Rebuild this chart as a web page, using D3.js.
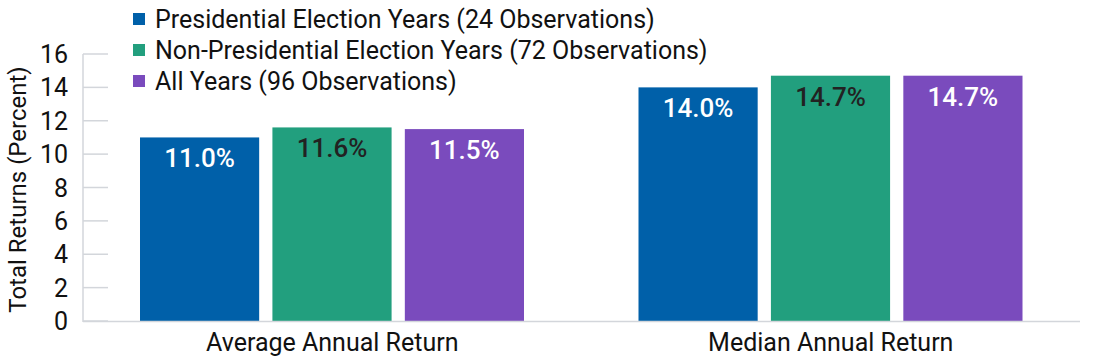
<!DOCTYPE html>
<html><head><meta charset="utf-8">
<script src="https://cdn.jsdelivr.net/npm/d3@7"></script>
<style>body{margin:0;background:#fff}text{font-family:Roboto,"Noto Sans",sans-serif}</style>
</head><body><svg id="c" width="1100" height="358"></svg>
<script>
const categories = ["Average Annual Return", "Median Annual Return"];
const seriesNames = ["Presidential Election Years (24 Observations)", "Non-Presidential Election Years (72 Observations)", "All Years (96 Observations)"];
const presidential = [11.0, 14.0];
const nonPresidential = [11.6, 14.7];
const allYears = [11.5, 14.7];
const yTicks = [0, 2, 4, 6, 8, 10, 12, 14, 16];
const colors = ["#0060A9", "#229F7E", "#7A4BBD"];
const labelColors = ["#ffffff", "#222222", "#ffffff"];

const series = [presidential, nonPresidential, allYears];
const svg = d3.select("#c");
const x0 = d3.scaleBand().domain(categories).range([83, 1080]);
const x1 = d3.scaleBand().domain(d3.range(3)).range([57, 441]).paddingInner(0.1);
const y = d3.scaleLinear().domain([0, 16]).range([321, 54]);

svg.append("g").selectAll("line").data(yTicks).join("line")
  .attr("x1", 83).attr("x2", 108).attr("y1", d => y(d)).attr("y2", d => y(d))
  .attr("stroke", "#d3d6db").attr("stroke-width", 1.5);
svg.append("g").selectAll("text").data(yTicks).join("text")
  .attr("x", 68).attr("y", d => y(d)).attr("dy", "0.36em").attr("text-anchor", "end")
  .attr("font-size", 25).attr("fill", "#111").text(d => d);

categories.forEach((c, ci) => {
  series.forEach((s, si) => {
    const v = s[ci];
    const bx = x0(c) + x1(si);
    svg.append("rect").attr("x", bx).attr("y", y(v)).attr("width", x1.bandwidth()).attr("height", y(0) - y(v))
      .attr("fill", colors[si]);
    svg.append("text").attr("x", bx + x1.bandwidth() / 2).attr("y", y(v) + 30)
      .attr("text-anchor", "middle").attr("font-size", 26).attr("font-weight", 500)
      .attr("fill", labelColors[si]).text(v.toFixed(1) + "%");
  });
});

svg.append("line").attr("x1", 83).attr("x2", 83).attr("y1", y(16)).attr("y2", 322).attr("stroke", "#d3d6db").attr("stroke-width", 1.5);
svg.append("line").attr("x1", 83).attr("x2", 1080).attr("y1", 321.5).attr("y2", 321.5).attr("stroke", "#d3d6db").attr("stroke-width", 1.5);

svg.append("g").selectAll("text").data(categories).join("text")
  .attr("x", d => x0(d) + x0.bandwidth() / 2).attr("y", 342).attr("dy", "0.36em")
  .attr("text-anchor", "middle").attr("font-size", 25).attr("fill", "#111").text(d => d);

svg.append("text").attr("transform", "translate(17," + ((y(0) + y(16)) / 2 + 2) + ") rotate(-90)")
  .attr("text-anchor", "middle").attr("dy", "0.36em").attr("font-size", 24).attr("fill", "#111")
  .text("Total Returns (Percent)");

const lg = svg.append("g");
seriesNames.forEach((n, i) => {
  const cy = 19 + i * 31;
  lg.append("rect").attr("x", 133).attr("y", cy - 6).attr("width", 12).attr("height", 12).attr("fill", colors[i]);
  lg.append("text").attr("x", 155).attr("y", cy).attr("dy", "0.36em").attr("font-size", 25).attr("fill", "#111").text(n);
});
</script></body></html>
